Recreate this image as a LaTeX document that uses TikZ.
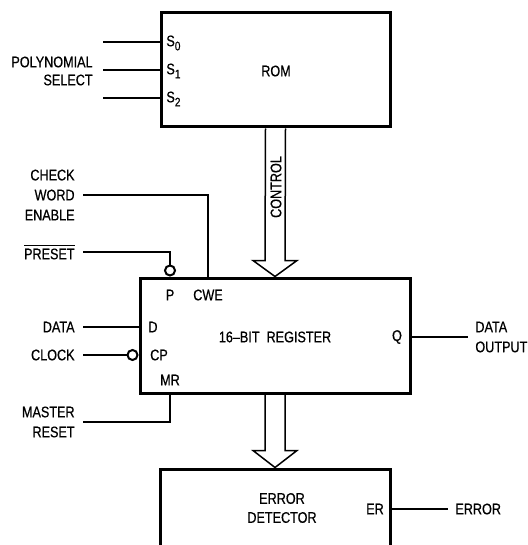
\documentclass[tikz,border=0pt]{standalone}
\usepackage{fontspec}
\setmainfont{Liberation Sans}[FakeStretch=0.82, FakeBold=0.6]
\usetikzlibrary{arrows.meta,positioning,calc}
\newcommand{\subidx}[1]{\raisebox{-0.5ex}{\fontsize{6.2}{6}\selectfont #1}}

\begin{document}
\begin{tikzpicture}[
    x=0.5pt, y=-0.5pt,
    box/.style={draw, line width=1.5pt, inner sep=0pt},
    wire/.style={line width=1pt},
    bus/.style={line width=0.75pt, line join=miter},
    pin/.style={font=\fontsize{7.7}{9.5}\selectfont, inner sep=0pt},
    label/.style={font=\fontsize{7.7}{10}\selectfont, inner sep=0pt},
    bubble/.style={circle, draw, line width=1pt, inner sep=0pt, minimum size=5pt, fill=white}
  ]
  \clip (0,0) rectangle (528,545);
  % Boxes
  \node[box, minimum width=114.5pt, minimum height=57pt] (rom) at (275.5,70) {};
  \node[box, minimum width=135pt, minimum height=57.5pt] (reg) at (275,335.5) {};
  \node[box, minimum width=115pt, minimum height=38.5pt] (err) at (275,507.5) {};

  % ROM
  \node[pin] (romlbl) at (276,71) {ROM};
  \node[pin, anchor=west] (s0) at (166,43) {S\subidx{0}};
  \node[pin, anchor=west] (s1) at (166,71) {S\subidx{1}};
  \node[pin, anchor=west] (s2) at (166,99) {S\subidx{2}};
  \node[label, anchor=east, align=right, font=\fontsize{7.7}{9}\selectfont] (polysel) at (93,71) {POLYNOMIAL\\SELECT};
  \coordinate (s0in) at (103,42);
  \coordinate (s1in) at (103,70);
  \coordinate (s2in) at (103,98);
  \draw[wire] (s0in) -- (s0in -| rom.west);
  \draw[wire] (s1in) -- (s1in -| rom.west);
  \draw[wire] (s2in) -- (s2in -| rom.west);

  % Register
  \node[pin] (reglbl) at (275,337) {16--BIT\ \ REGISTER};
  \node[pin] (p) at (170,295) {P};
  \node[pin] (cwep) at (208,295) {CWE};
  \node[pin] (d) at (153,327) {D};
  \node[pin] (cp) at (159,355) {CP};
  \node[pin] (mr) at (170,380) {MR};
  \node[pin] (q) at (397,337) {Q};

  \node[label, anchor=east, align=right] (cwe) at (75,195) {CHECK\\WORD\\ENABLE};
  \node[label, anchor=east] (preset) at (75,252) {$\overline{\mbox{PRESET}}$};
  \node[label, anchor=east] (data) at (75,327) {DATA};
  \node[label, anchor=east] (clock) at (75,355) {CLOCK};
  \node[label, anchor=east, align=right] (master) at (75,422) {MASTER\\RESET};
  \node[label, anchor=west, align=left] (dout) at (475,337) {DATA\\OUTPUT};

  \node[bubble, anchor=south] (pbub) at (reg.north -| p) {};
  \node[bubble, anchor=east] (cbub) at (reg.west |- cp) {};

  \draw[wire] ($(cwe.east)+(8,0)$) -| (reg.north -| cwep);
  \draw[wire] ($(preset.east)+(8,0)$) -| (pbub.north);
  \draw[wire] ($(data.east)+(8,0)$) -- (reg.west |- d);
  \draw[wire] ($(clock.east)+(8,0)$) -- (cbub.west);
  \draw[wire] (reg.south -| mr) |- ($(master.east)+(8,0)$);
  \draw[wire] (reg.east |- q) -- ($(dout.west)+(-7,0)$);

  % Error detector
  \node[pin, align=center] (errlbl) at (282,508) {ERROR\\DETECTOR};
  \node[pin] (er) at (375,509) {ER};
  \node[label, anchor=west] (errout) at (455,509) {ERROR};
  \draw[wire] (err.east |- er) -- ($(errout.west)+(-7,0)$);

  % Buses
  \draw[bus] ($(rom.south)+(-10,0)$) -- ($(reg.north)+(-10,-16)$) -- ($(reg.north)+(-22,-16)$)
    -- (reg.north) -- ($(reg.north)+(22,-16)$) -- ($(reg.north)+(10,-16)$) -- ($(rom.south)+(10,0)$);
  \node[pin, rotate=90] (ctl) at (276,187) {CONTROL};
  \draw[bus] ($(reg.south)+(-10,0)$) -- ($(err.north)+(-10,-17)$) -- ($(err.north)+(-22,-17)$)
    -- (err.north) -- ($(err.north)+(22,-17)$) -- ($(err.north)+(10,-17)$) -- ($(reg.south)+(10,0)$);
\end{tikzpicture}
\end{document}
